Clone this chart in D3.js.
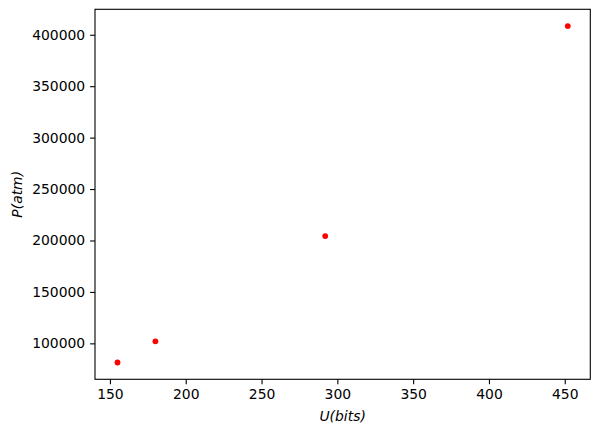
<!DOCTYPE html>
<html lang="en">
<head>
    <meta charset="UTF-8">
    <title>P vs U</title>
    <script src="https://d3js.org/d3.v7.min.js"></script>
    <style>
        body { margin: 0; background: #fff; }
        .tick text { font: 13.9px "DejaVu Sans", sans-serif; fill: #000; }
        .tick line { stroke: #000; stroke-width: 1.1px; }
        .domain { display: none; }
        .label { font: italic 13.9px "DejaVu Sans", sans-serif; fill: #000; }
    </style>
</head>
<body>
    <script>
        // Data
        var uBits = [155, 180, 292, 452];
        var pAtm = [81400, 102000, 204300, 408400];
        var xTicks = [150, 200, 250, 300, 350, 400, 450];
        var yTicks = [100000, 150000, 200000, 250000, 300000, 350000, 400000];

        var width = 599, height = 434;
        // plot box (note: "top" is a reserved global in browsers)
        var plotLeft = 95, plotRight = 590.3, plotTop = 9.3, plotBottom = 379.3;

        // matplotlib style 5% margins
        function padded(vals) {
            var lo = d3.min(vals), hi = d3.max(vals), s = hi - lo;
            return [lo - 0.05 * s, hi + 0.05 * s];
        }

        var x = d3.scaleLinear().domain(padded(uBits)).range([plotLeft, plotRight]);
        var y = d3.scaleLinear().domain(padded(pAtm)).range([plotBottom, plotTop]);

        var svg = d3.select("body")
            .append("svg")
            .attr("width", width)
            .attr("height", height);

        svg.append("g")
            .attr("transform", "translate(0," + plotBottom + ")")
            .call(d3.axisBottom(x).tickValues(xTicks).tickSize(4.9).tickPadding(4.9).tickFormat(d3.format("d")));

        svg.append("g")
            .attr("transform", "translate(" + plotLeft + ",0)")
            .call(d3.axisLeft(y).tickValues(yTicks).tickSize(4.9).tickPadding(4.9).tickFormat(d3.format("d")));

        // frame
        svg.append("rect")
            .attr("x", plotLeft)
            .attr("y", plotTop)
            .attr("width", plotRight - plotLeft)
            .attr("height", plotBottom - plotTop)
            .attr("fill", "none")
            .attr("stroke", "#000")
            .attr("stroke-width", 1.1);

        svg.selectAll(".dot")
            .data(uBits)
            .enter()
            .append("circle")
            .attr("class", "dot")
            .attr("cx", function (d) { return x(d); })
            .attr("cy", function (d, i) { return y(pAtm[i]); })
            .attr("r", 2.9)
            .attr("fill", "#ff0000");

        svg.append("text")
            .attr("class", "label")
            .attr("x", (plotLeft + plotRight) / 2)
            .attr("y", 421)
            .attr("text-anchor", "middle")
            .text("U(bits)");

        svg.append("text")
            .attr("class", "label")
            .attr("transform", "translate(22," + (plotTop + plotBottom) / 2 + ") rotate(-90)")
            .attr("text-anchor", "middle")
            .text("P(atm)");
    </script>
</body>
</html>
